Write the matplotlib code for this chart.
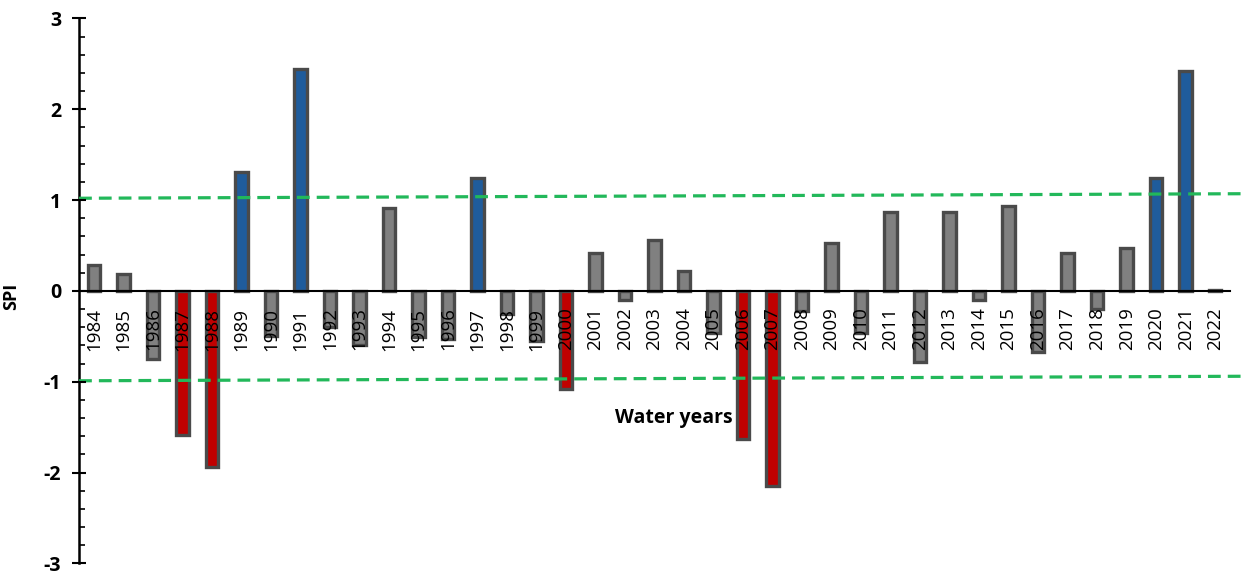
"""SPI bar chart for water years 1984-2022."""

import matplotlib.pyplot as plt
import numpy as np
from matplotlib.ticker import MultipleLocator

years = list(range(1984, 2023))
spi = [
    0.28, 0.19, -0.75, -1.59, -1.94, 1.31, -0.50, 2.44, -0.40, -0.60,
    0.91, -0.51, -0.53, 1.24, -0.26, -0.55, -1.08, 0.42, -0.10, 0.56,
    0.22, -0.46, -1.63, -2.15, -0.22, 0.53, -0.46, 0.87, -0.78, 0.87,
    -0.10, 0.93, -0.67, 0.42, -0.20, 0.47, 1.24, 2.42, 0.01,
]
# class of each year: wet / dry / normal
wet_years = [1989, 1991, 1997, 2020, 2021]
dry_years = [1987, 1988, 2000, 2006, 2007]

# threshold lines as drawn (slightly tilted in the source)
wet_line = [1.02, 1.07]
dry_line = [-0.99, -0.94]

BLUE = "#1f5c9c"
RED = "#c00000"
GREY = "#808080"
EDGE = "#4a4a4a"
GREEN = "#22b85a"

plt.rcParams["font.family"] = ["Open Sans", "DejaVu Sans"]
plt.rcParams["axes.unicode_minus"] = False

colors = []
for y in years:
    if y in wet_years:
        colors.append(BLUE)
    elif y in dry_years:
        colors.append(RED)
    else:
        colors.append(GREY)

fig = plt.figure(figsize=(12.47, 5.76), dpi=100)
ax = fig.add_axes([0.0634, 0.022, 0.9229, 0.946])

x = np.arange(len(years))
ax.bar(x, spi, width=0.42, color=colors, edgecolor=EDGE, linewidth=2.4, zorder=1)

ax.set_xlim(-0.5, len(years) - 0.5)
ax.set_ylim(-3, 3)

x_end = len(years) + 0.06
ax.plot([-0.5, x_end], wet_line, color=GREEN, lw=2.3, ls=(0, (4, 2.2)),
        clip_on=False, zorder=3)
ax.plot([-0.5, x_end], dry_line, color=GREEN, lw=2.3, ls=(0, (4, 2.2)),
        clip_on=False, zorder=3)

for side in ["top", "right"]:
    ax.spines[side].set_visible(False)
ax.spines["bottom"].set_position(("data", 0))
ax.spines["bottom"].set_linewidth(1.5)
ax.spines["bottom"].set_zorder(4)
ax.spines["left"].set_linewidth(1.8)
ax.xaxis.set_zorder(5)
ax.yaxis.set_zorder(5)

ax.set_xticks(x)
ax.set_xticklabels([str(y) for y in years], rotation=90, fontsize=13.5, va="top")
ax.tick_params(axis="x", length=0, pad=12)

ax.yaxis.set_major_locator(MultipleLocator(1))
ax.yaxis.set_minor_locator(MultipleLocator(0.2))
ax.tick_params(axis="y", which="major", direction="inout", length=10, width=1.5,
               labelsize=14, pad=8)
ax.tick_params(axis="y", which="minor", direction="in", length=4, width=1.2)
for lbl in ax.get_yticklabels():
    lbl.set_fontweight("bold")

ax.set_ylabel("SPI", fontsize=13, fontweight="bold")
ax.yaxis.set_label_coords(-0.051, 0.49)
ax.set_xlabel("Water years", fontsize=14, fontweight="bold")
ax.xaxis.set_label_coords(0.517, 0.266)
ax.xaxis.label.set_va("center")

fig.savefig("out.png", dpi=100)
